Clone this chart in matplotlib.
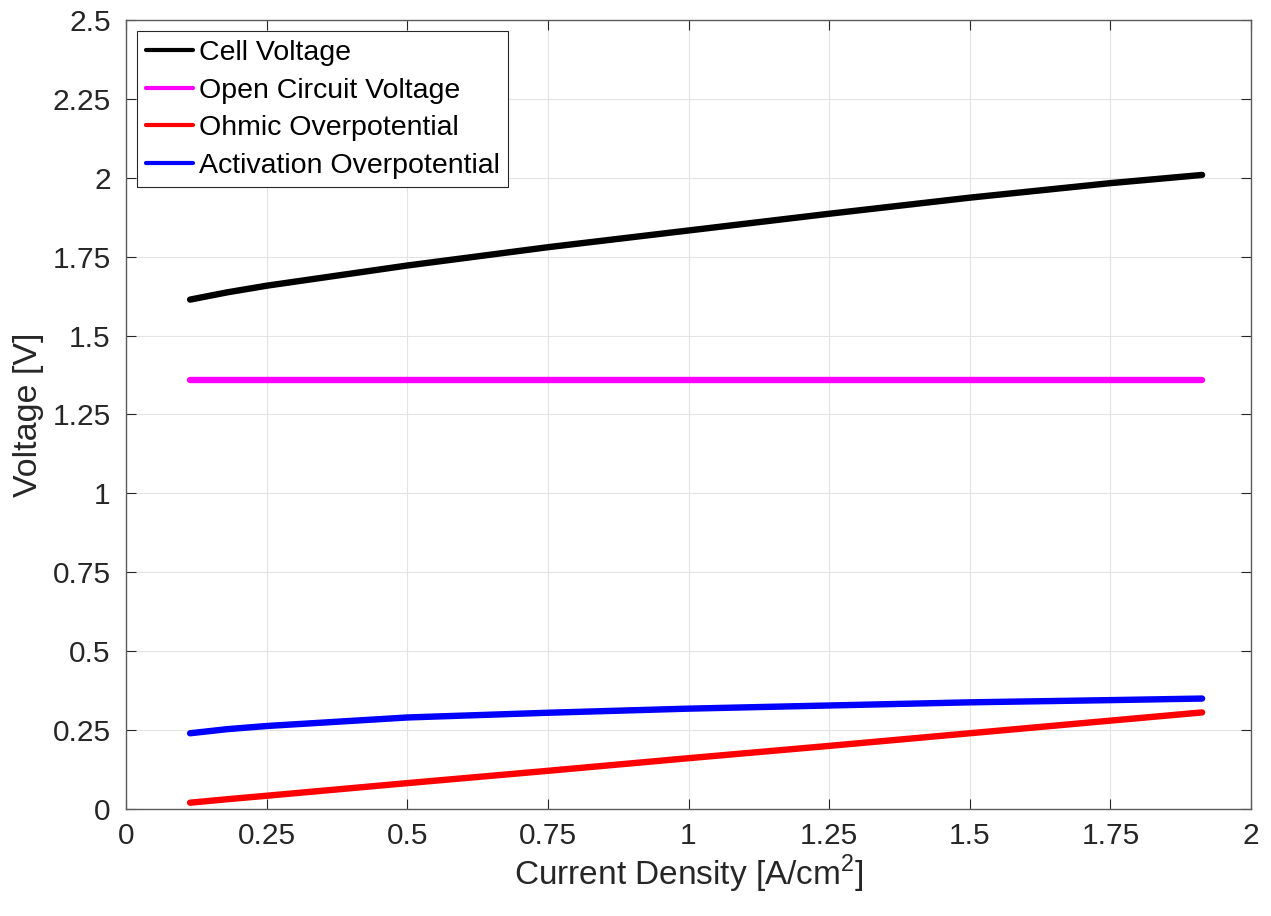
import matplotlib
matplotlib.use("Agg")
import matplotlib.pyplot as plt

plt.rcParams['font.family'] = ['Liberation Sans', 'DejaVu Sans']
plt.rcParams['mathtext.fontset'] = 'custom'
plt.rcParams['mathtext.rm'] = 'Liberation Sans'

# current density [A/cm^2] and voltages [V]
current_density = [0.114, 0.18, 0.25, 0.5, 0.75, 1.0, 1.25, 1.5, 1.75, 1.913]
cell_voltage = [1.614, 1.637, 1.658, 1.722, 1.780, 1.833, 1.886, 1.937, 1.983, 2.009]
ocv = [1.358, 1.358, 1.358, 1.358, 1.358, 1.358, 1.358, 1.358, 1.358, 1.358]
ohmic = [0.020, 0.031, 0.042, 0.082, 0.121, 0.161, 0.200, 0.240, 0.280, 0.306]
activation = [0.240, 0.253, 0.263, 0.290, 0.305, 0.318, 0.328, 0.338, 0.345, 0.350]

labels = ['Cell Voltage', 'Open Circuit Voltage', 'Ohmic Overpotential',
          'Activation Overpotential']
colors = ['black', '#ff00ff', '#ff0000', '#0000ff']

fig = plt.figure(figsize=(12.71, 9.16), dpi=100)
ax = fig.add_axes([0.0991, 0.1168, 0.8852, 0.8614])

series = [cell_voltage, ocv, ohmic, activation]
for ys, lab, col in zip(series, labels, colors):
    ax.plot(current_density, ys, color=col, lw=4.6, label=lab,
            solid_capstyle='round', solid_joinstyle='round')

ax.set_xlim(0, 2)
ax.set_ylim(0, 2.5)
ax.set_xticks([0, 0.25, 0.5, 0.75, 1, 1.25, 1.5, 1.75, 2])
ax.set_xticklabels(['0', '0.25', '0.5', '0.75', '1', '1.25', '1.5', '1.75', '2'])
ax.set_yticks([0, 0.25, 0.5, 0.75, 1, 1.25, 1.5, 1.75, 2, 2.25, 2.5])
ax.set_yticklabels(['0', '0.25', '0.5', '0.75', '1', '1.25', '1.5', '1.75',
                    '2', '2.25', '2.5'])

ax.grid(True, color='#e3e3e3', lw=0.8)
ax.set_axisbelow(True)
ax.tick_params(direction='in', top=True, right=True, length=7, width=0.8,
               labelsize=21.5, colors='#262626')
ax.tick_params(axis='x', pad=9)
ax.tick_params(axis='y', pad=11)
for sp in ax.spines.values():
    sp.set_color('#5a5a5a')
    sp.set_linewidth(1.0)

ax.set_xlabel('Current Density [A/cm$^2$]', fontsize=24, color='#262626')
ax.set_ylabel('Voltage [V]', fontsize=24.5, color='#262626')
ax.xaxis.set_label_coords(0.5, -0.056)
ax.yaxis.set_label_coords(-0.073, 0.5)

leg = ax.legend(loc='upper left', fontsize=20.5, handlelength=1.65,
                handletextpad=0.2, labelspacing=0.41, borderpad=0.3,
                borderaxespad=0.4, fancybox=False, framealpha=1)
leg.get_frame().set_edgecolor('#262626')
leg.get_frame().set_linewidth(0.8)
for line in leg.get_lines():
    line.set_linewidth(3.0)

fig.savefig('out.png', dpi=100)
